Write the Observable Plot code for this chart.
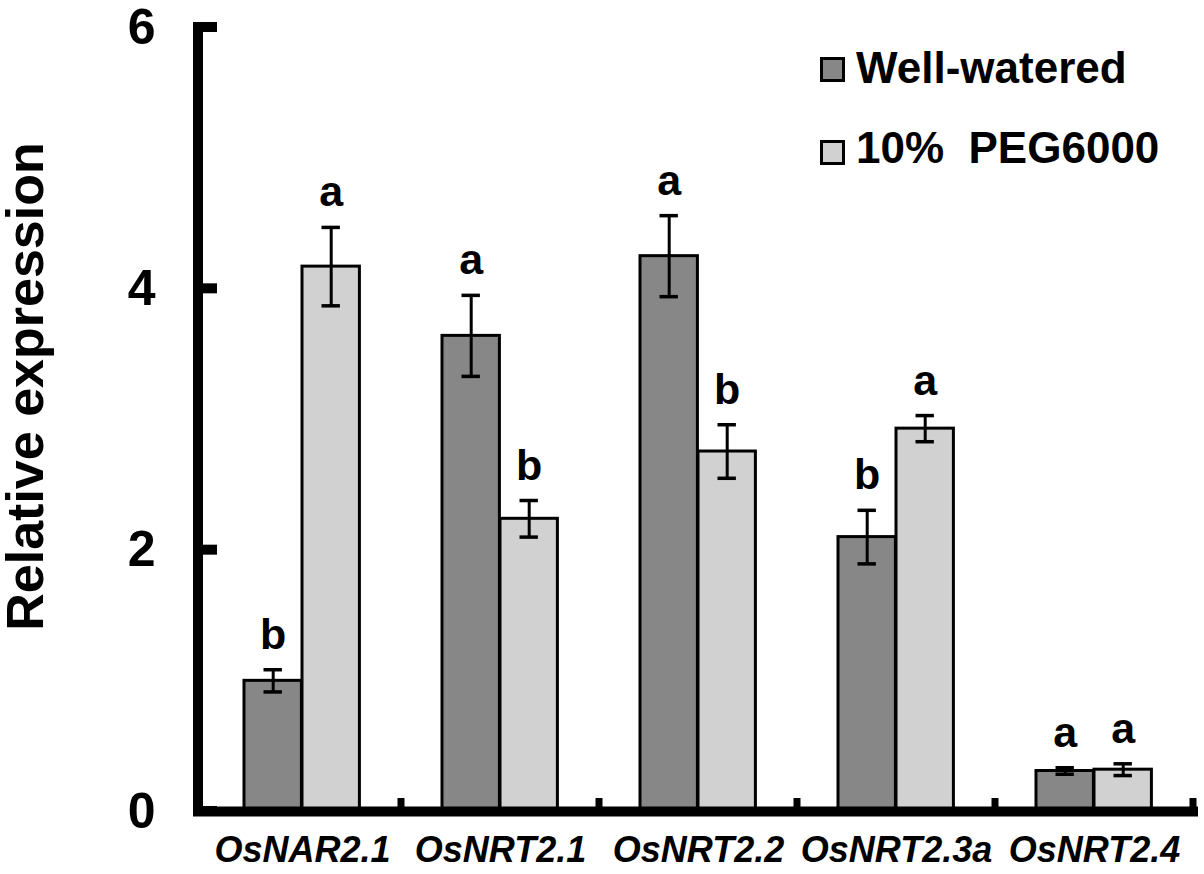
<!DOCTYPE html>
<html>
<head>
<meta charset="utf-8">
<script src="https://cdn.jsdelivr.net/npm/d3@7"></script>
<script src="https://cdn.jsdelivr.net/npm/@observablehq/plot@0.6"></script>
<style>
  html, body { margin: 0; padding: 0; background: white; }
  #wrap { position: relative; width: 1204px; height: 874px; font-family: "Liberation Sans", Arial, sans-serif; }
  .sw { position: absolute; width: 25px; height: 25px; box-sizing: border-box; border: 3px solid #000; }
  .lt { position: absolute; font-size: 44px; font-weight: bold; line-height: 44px; white-space: pre; color: #000; }
</style>
</head>
<body>
<div id="wrap"></div>
<script>
// ---- data ----
const genes = ["OsNAR2.1", "OsNRT2.1", "OsNRT2.2", "OsNRT2.3a", "OsNRT2.4"];
const seriesNames = ["Well-watered", "10%  PEG6000"];
const wellWatered = [1.00, 3.64, 4.25, 2.10, 0.31];
const wellWateredErr = [0.085, 0.31, 0.31, 0.205, 0.025];
const wellWateredLetters = ["b", "a", "a", "b", "a"];
const peg = [4.17, 2.24, 2.755, 2.93, 0.32];
const pegErr = [0.30, 0.14, 0.205, 0.10, 0.045];
const pegLetters = ["a", "b", "b", "a", "a"];
const yTicks = [0, 2, 4, 6];
const yLabel = "Relative expression";

const colors = {"Well-watered": "#878787", "10%  PEG6000": "#d1d1d1"};

const ww = genes.map((g, i) => ({gene: g, value: wellWatered[i], err: wellWateredErr[i], letter: wellWateredLetters[i]}));
const pg = genes.map((g, i) => ({gene: g, value: peg[i], err: pegErr[i], letter: pegLetters[i]}));

// style constants (pixel insets within each gene band)
const font = "Liberation Sans, Arial, sans-serif";
const wwInset = {insetLeft: 41, insetRight: 99.6};
const pgInset = {insetLeft: 99, insetRight: 41.6};
const wwDx = -29.3, pgDx = 28.7;
const capHalfGap = 19.5;

function seriesMarks(data, inset, dx, fill) {
  return [
    Plot.barY(data, {x: "gene", y: "value", fill, stroke: "#000", strokeWidth: 3, ...inset}),
    Plot.ruleX(data, {x: "gene", y1: d => d.value - d.err, y2: d => d.value + d.err, dx, stroke: "#000", strokeWidth: 3}),
    Plot.tickY(data, {x: "gene", y: d => d.value + d.err, stroke: "#000", strokeWidth: 3.5,
      insetLeft: inset.insetLeft + capHalfGap, insetRight: inset.insetRight + capHalfGap}),
    Plot.tickY(data, {x: "gene", y: d => d.value - d.err, stroke: "#000", strokeWidth: 3.5,
      insetLeft: inset.insetLeft + capHalfGap, insetRight: inset.insetRight + capHalfGap}),
    Plot.text(data, {x: "gene", y: d => d.value + d.err, text: "letter", dx, dy: -21, lineAnchor: "bottom",
      fontSize: 43, fontWeight: "bold", fill: "#000", fontFamily: font})
  ];
}

const plot = Plot.plot({
  width: 1204,
  height: 874,
  marginLeft: 201,
  marginRight: 10,
  marginTop: 27,
  marginBottom: 63,
  style: {background: "white", color: "#000", fontFamily: font, overflow: "visible"},
  x: {type: "band", domain: genes, padding: 0},
  y: {domain: [0, 6]},
  marks: [
    ...seriesMarks(ww, wwInset, wwDx, colors["Well-watered"]),
    ...seriesMarks(pg, pgInset, pgDx, colors["10%  PEG6000"]),
    Plot.axisY({ticks: yTicks, tickSize: 0, tickPadding: 46, label: null, fontSize: 50, fontWeight: "bold", tickFormat: d => String(d)}),
    Plot.axisX({tickSize: 0, tickPadding: 25, label: null, fontSize: 36, fontWeight: "bold", fontStyle: "italic"}),
    Plot.text([yLabel], {text: d => d, frameAnchor: "left", rotate: -90, dx: -175, dy: -33,
      fontSize: 52, fontWeight: "bold", fill: "#000", fontFamily: font, textAnchor: "middle", lineAnchor: "middle"})
  ]
});

// axis lines and decorative ticks, positioned via the plot's own scales
const sx = plot.scale("x"), sy = plot.scale("y");
const [rx0, rx1] = sx.range;
const y0 = sy.apply(0), yTop = sy.apply(6);
const g = d3.select(plot).append("g").attr("stroke", "#000");
g.append("line").attr("x1", rx0 - 3).attr("x2", rx0 - 3).attr("y1", yTop - 5).attr("y2", y0 + 5).attr("stroke-width", 10);
for (const t of yTicks) {
  g.append("line").attr("x1", rx0 - 3).attr("x2", rx0 + 16).attr("y1", sy.apply(t)).attr("y2", sy.apply(t)).attr("stroke-width", 10);
}
g.append("line").attr("x1", rx0 - 8).attr("x2", rx1 + 4).attr("y1", y0 + 0.5).attr("y2", y0 + 0.5).attr("stroke-width", 10);
for (const gene of genes) {
  const bx = sx.apply(gene) + sx.bandwidth;
  g.append("line").attr("x1", bx).attr("x2", bx).attr("y1", y0 - 13).attr("y2", y0).attr("stroke-width", 7);
}

const wrap = document.getElementById("wrap");
wrap.appendChild(plot);

// legend
const legendRows = [
  {name: seriesNames[0], swTop: 57, textTop: 46},
  {name: seriesNames[1], swTop: 140, textTop: 126}
];
for (const r of legendRows) {
  const sw = document.createElement("div");
  sw.className = "sw";
  sw.style.left = "820px";
  sw.style.top = r.swTop + "px";
  sw.style.background = colors[r.name];
  wrap.appendChild(sw);
  const t = document.createElement("div");
  t.className = "lt";
  t.style.left = "856px";
  t.style.top = r.textTop + "px";
  t.textContent = r.name;
  wrap.appendChild(t);
}
</script>
</body>
</html>
